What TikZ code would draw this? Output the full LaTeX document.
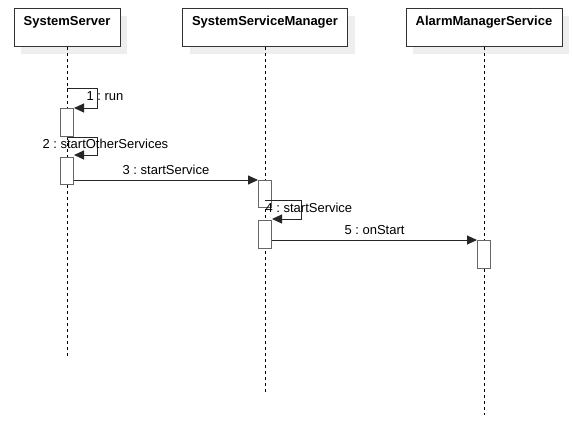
\documentclass[tikz,border=0pt]{standalone}
\usepackage{fontspec}
\setmainfont{Liberation Sans}
\usetikzlibrary{arrows.meta,shadows}
\definecolor{headline}{RGB}{51,51,51}
\definecolor{actline}{RGB}{102,102,102}
\definecolor{headshadow}{RGB}{238,238,238}
\frenchspacing
\tikzset{
  head/.style={
    rectangle, draw=headline, line width=1pt, fill=white,
    drop shadow={shadow xshift=7pt, shadow yshift=-7pt, fill=headshadow, opacity=1},
    font=\bfseries\fontsize{13}{15}\selectfont, anchor=north,
    minimum width=#1, inner sep=0pt, text height=16.7pt, text depth=21.3pt},
  act/.style={rectangle, draw=actline, line width=1pt, fill=white,
    minimum width=13pt, minimum height=#1, inner sep=0pt, anchor=north},
  lifeline/.style={draw=black, line width=1pt, dash pattern=on 3pt off 3pt},
  msg/.style={draw=black!85, line width=1pt, -{Triangle[length=10pt,width=9pt]}},
  lbl/.style={font=\fontsize{13}{15}\selectfont},
}

\begin{document}
\begin{tikzpicture}[x=1pt, y=-1pt]
\useasboundingbox (0,0) rectangle (572,434);

%% == HEADS ===================================================================
\node[head=106pt] (ss)  at ( 67,8) {SystemServer};
\node[head=165pt] (ssm) at (265,8) {SystemServiceManager};
\node[head=156pt] (ams) at (484,8) {AlarmManagerService};

% ends of the lifelines
\coordinate (ssend)  at ( 67,357);
\coordinate (ssmend) at (265,392);
\coordinate (amsend) at (484,415);

\draw[lifeline] (ss.south)  -- (ssend);
\draw[lifeline] (ssm.south) -- (ssmend);
\draw[lifeline] (ams.south) -- (amsend);

%% == ACTIVATIONS =============================================================
\node[act=28pt] (ss1)  at ( 67,108) {};
\node[act=27pt] (ss2)  at ( 67,157) {};
\node[act=27pt] (ssm1) at (265,180) {};
\node[act=28pt] (ssm2) at (265,220) {};
\node[act=28pt] (ams1) at (484,240) {};

%% == MESSAGES ================================================================
% 1: self call on SystemServer
\coordinate (runstart) at (67,88);
\draw[msg] (runstart) -- ++(30,0) |- (ss1.north east);
\node[lbl, anchor=west] (runlbl) at (83,96) {1 : run};

% 2: self call, out of the first activation
\draw[msg] (ss1.south) -- ++(30,0) |- ([yshift=2pt]ss2.north east);
\node[lbl, anchor=west] (otherlbl) at (39,144) {2 : startOtherServices};

% 3: SystemServer -> SystemServiceManager
\draw[msg] (ss2.east |- ssm1.north) -- (ssm1.north west)
  node[lbl, midway, above=2pt] (startlbl) {3 : startService};

% 4: self call on SystemServiceManager
\coordinate (ssmstart) at (265,200);
\draw[msg] (ssmstart) -- ++(36,0) |- ([yshift=1pt]ssm2.north east);
\node[lbl, anchor=west] (selflbl) at (262,208) {4 : startService};

% 5: SystemServiceManager -> AlarmManagerService
\draw[msg] (ssm2.east |- ams1.north) -- (ams1.north west)
  node[lbl, midway, above=2pt] (onlbl) {5 : onStart};
\end{tikzpicture}
\end{document}
